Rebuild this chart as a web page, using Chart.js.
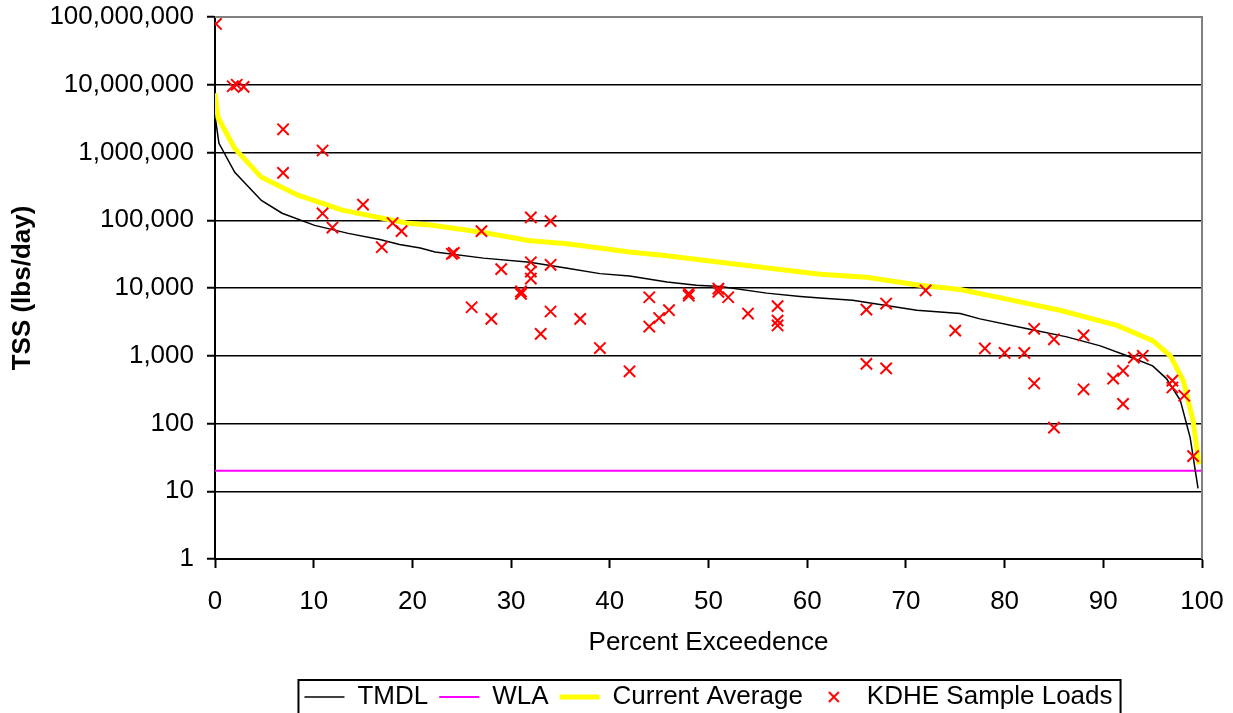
<!DOCTYPE html>
<html>
<head>
<meta charset="utf-8">
<script src="https://cdn.jsdelivr.net/npm/chart.js@4.4.0/dist/chart.umd.min.js"></script>
<style>
  body { margin: 0; background: #fff; }
  canvas { display: block; }
</style>
</head>
<body>
<canvas id="loadChart" width="1233" height="713"></canvas>
<script>
// load duration curve data (percent exceedence vs lbs/day)
const tmdlPct  = [0, 0.4, 2, 4.7, 6.8, 10.1, 13.5, 16.7, 18.7, 20.8, 22.3, 27.2, 31.9, 35.7, 39, 42, 45.8, 48.8, 51.2, 55.9, 59.3, 61.3, 64.6, 71.1, 75.5, 77.5, 82.3, 86.3, 89.7, 92.4, 95, 96.4, 97.8, 98.8, 99.6];
const tmdlLoad = [3500000, 1370000, 510000, 196000, 127000, 84000, 64000, 52000, 44000, 39000, 34000, 27600, 24000, 19600, 16300, 15000, 12300, 11000, 10500, 8400, 7500, 7100, 6600, 4700, 4200, 3500, 2500, 1900, 1400, 1000, 710, 460, 220, 62, 11];

const avgPct  = [0, 0.3, 0.8, 2.0, 4.7, 8.4, 10.9, 12.9, 18, 19.6, 21.8, 27.2, 31.9, 35.7, 42, 45.8, 52.2, 61.3, 66, 71.4, 75.5, 79.5, 85.6, 91.4, 95, 96.8, 98.1, 99.1, 99.7];
const avgLoad = [7500000, 3300000, 2400000, 1150000, 430000, 234000, 178000, 141000, 100000, 90000, 85000, 66000, 50000, 45000, 34000, 30000, 23000, 16000, 14400, 11000, 9500, 7200, 4700, 2800, 1670, 1000, 430, 110, 25];

const wlaPct  = [0, 100];
const wlaLoad = [20, 20];

const samplePct  = [0.1, 1.8, 2.2, 2.9, 6.9, 6.9, 10.9, 10.9, 11.9, 15, 16.9, 18, 18.9, 24, 24.2, 27, 26, 28, 29, 31, 31, 32, 32, 32, 32, 33, 34, 34, 34, 37, 39, 42, 44, 44, 45, 46, 48, 48, 51, 51, 52, 54, 57, 57, 57, 66, 66, 68, 68, 72, 75, 78, 80, 82, 83, 83, 85, 85, 88, 88, 91, 92, 92, 93.1, 94, 97, 97, 98.2, 99.1];
const sampleLoad = [79000000, 9500000, 10000000, 9300000, 2200000, 500000, 1070000, 126000, 78000, 170000, 40000, 91000, 69000, 32000, 33000, 69000, 5200, 3500, 19000, 8900, 8200, 110000, 24000, 17500, 13800, 2100, 97000, 22000, 4500, 3500, 1300, 590, 7300, 2700, 3600, 4700, 8300, 7700, 9800, 8800, 7300, 4200, 5400, 3300, 2800, 4800, 760, 5900, 650, 9200, 2350, 1280, 1100, 1100, 2500, 390, 1750, 87, 2000, 320, 460, 600, 195, 940, 1000, 430, 340, 257, 33];

const yTicks = [1, 10, 100, 1000, 10000, 100000, 1000000, 10000000, 100000000];

function toPoints(xs, ys) {
    return xs.map((x, i) => ({ x: x, y: ys[i] }));
}

// small x icon for the legend (crossRot gets stretched by pointStyleWidth)
const xIcon = document.createElement('canvas');
xIcon.width = 14;
xIcon.height = 14;
const ic = xIcon.getContext('2d');
ic.strokeStyle = '#FF0000';
ic.lineWidth = 2;
ic.beginPath();
ic.moveTo(2, 2); ic.lineTo(12, 12);
ic.moveTo(12, 2); ic.lineTo(2, 12);
ic.stroke();

Chart.defaults.font.family = 'Arial, "Liberation Sans", sans-serif';
Chart.defaults.font.size = 26;
Chart.defaults.color = '#000';

// grey frame on top/right of the plot and a box around the legend
const framePlugin = {
    id: 'frame',
    afterLayout(chart) {
        // nudge legend down a bit, like the original
        chart.legend.top += 7;
        chart.legend.bottom += 7;
    },
    afterDatasetsDraw(chart) {
        const a = chart.chartArea;
        const ctx = chart.ctx;
        ctx.save();
        ctx.strokeStyle = '#808080';
        ctx.lineWidth = 2;
        ctx.beginPath();
        ctx.moveTo(a.left, a.top);
        ctx.lineTo(a.right, a.top);
        ctx.lineTo(a.right, a.bottom);
        ctx.stroke();
        ctx.restore();
    },
    afterDraw(chart) {
        const boxes = chart.legend.legendHitBoxes;
        if (!boxes || !boxes.length) return;
        const left = Math.min(...boxes.map(b => b.left)) - 6;
        const right = Math.max(...boxes.map(b => b.left + b.width)) + 8;
        const ctx = chart.ctx;
        ctx.save();
        ctx.strokeStyle = '#000';
        ctx.lineWidth = 2;
        ctx.strokeRect(left, chart.legend.top + 7, right - left, 60);
        ctx.restore();
    }
};

const ctx = document.getElementById('loadChart').getContext('2d');
const loadChart = new Chart(ctx, {
    type: 'scatter',
    data: {
        datasets: [
            {
                label: 'TMDL',
                data: toPoints(tmdlPct, tmdlLoad),
                showLine: true,
                borderColor: '#000000',
                borderWidth: 1.5,
                pointRadius: 0,
                order: 2
            },
            {
                label: 'WLA',
                data: toPoints(wlaPct, wlaLoad),
                showLine: true,
                borderColor: '#FF00FF',
                borderWidth: 2,
                pointRadius: 0,
                order: 3
            },
            {
                label: 'Current Average',
                data: toPoints(avgPct, avgLoad),
                showLine: true,
                borderColor: '#FFFF00',
                borderWidth: 5,
                pointRadius: 0,
                order: 1
            },
            {
                label: 'KDHE Sample Loads',
                data: toPoints(samplePct, sampleLoad),
                showLine: false,
                pointStyle: 'crossRot',
                pointRadius: 8,
                borderColor: '#FF0000',
                borderWidth: 2,
                order: 0
            }
        ]
    },
    options: {
        responsive: false,
        animation: false,
        layout: {
            padding: { left: 0, right: 31, top: 17, bottom: 0 }
        },
        scales: {
            x: {
                type: 'linear',
                min: 0,
                max: 100,
                ticks: { stepSize: 10, padding: 18 },
                grid: {
                    drawOnChartArea: false,
                    drawTicks: true,
                    tickLength: 9,
                    tickColor: '#000',
                    tickWidth: 2
                },
                border: { color: '#000', width: 2 },
                title: {
                    display: true,
                    text: 'Percent Exceedence',
                    padding: { top: 0, bottom: 8 }
                },
                afterFit(scale) {
                    scale.height = 107;
                    scale.paddingLeft = 0;
                    scale.paddingRight = 0;
                }
            },
            y: {
                type: 'logarithmic',
                min: 1,
                max: 100000000,
                afterBuildTicks(scale) {
                    scale.ticks = yTicks.map(v => ({ value: v }));
                },
                ticks: {
                    padding: 13,
                    callback: v => Number(v).toLocaleString('en-US')
                },
                grid: {
                    color: '#000',
                    lineWidth: 1.5,
                    tickLength: 8,
                    tickColor: '#000',
                    tickWidth: 2
                },
                border: { color: '#000', width: 2 },
                title: {
                    display: true,
                    text: 'TSS (lbs/day)',
                    font: { weight: 'bold' },
                    padding: { top: 7, bottom: 0 }
                },
                afterFit(scale) {
                    scale.width = 215;
                    scale.paddingTop = 0;
                    scale.paddingBottom = 0;
                }
            }
        },
        plugins: {
            tooltip: { enabled: false },
            legend: {
                position: 'bottom',
                fullSize: false,
                labels: {
                    usePointStyle: true,
                    pointStyleWidth: 40,
                    boxHeight: 10,
                    padding: 11,
                    generateLabels(chart) {
                        return chart.data.datasets.map((ds, i) => ({
                            text: ds.label,
                            datasetIndex: i,
                            fillStyle: ds.borderColor,
                            strokeStyle: ds.borderColor,
                            lineWidth: ds.showLine ? ds.borderWidth : 2,
                            pointStyle: ds.showLine ? 'line' : xIcon,
                            hidden: false
                        }));
                    }
                }
            }
        }
    },
    plugins: [framePlugin]
});
</script>
</body>
</html>
